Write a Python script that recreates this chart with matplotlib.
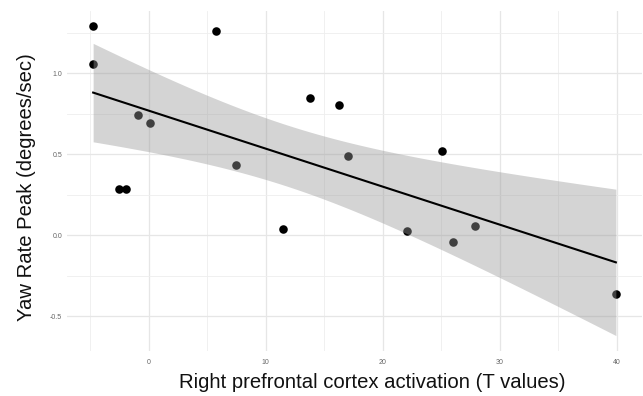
import numpy as np
import matplotlib
matplotlib.use("Agg")
import matplotlib.pyplot as plt
from matplotlib.ticker import MultipleLocator

plt.rcParams['font.family'] = ['Liberation Sans', 'DejaVu Sans']

# Right prefrontal cortex activation (T values) vs. yaw rate peak (deg/sec)
activation = [-4.74, -4.74, 5.77, 13.78, 16.28, 17.05, 25.08, -0.87, 0.10,
              7.50, -2.52, -1.95, 11.52, 22.04, 26.05, 27.90, 39.93]
yaw_peak = [1.288, 1.054, 1.261, 0.847, 0.803, 0.492, 0.521, 0.744, 0.691,
            0.435, 0.287, 0.287, 0.041, 0.027, -0.041, 0.055, -0.365]

x_ticks = [0, 10, 20, 30, 40]
y_ticks = [-0.5, 0.0, 0.5, 1.0]
x_label = "Right prefrontal cortex activation (T values)"
y_label = "Yaw Rate Peak (degrees/sec)"

x = np.asarray(activation)
y = np.asarray(yaw_peak)
n = len(x)

# Ordinary least squares fit with a 95% confidence band for the mean
slope, intercept = np.polyfit(x, y, 1)
resid = y - (intercept + slope * x)
s = np.sqrt(np.sum(resid ** 2) / (n - 2))
xg = np.linspace(x.min(), x.max(), 200)
yg = intercept + slope * xg
sxx = np.sum((x - x.mean()) ** 2)
se = s * np.sqrt(1.0 / n + (xg - x.mean()) ** 2 / sxx)
t_crit = 2.131  # t(0.975, df=15)
lo, hi = yg - t_crit * se, yg + t_crit * se

W, H = 643, 396
fig = plt.figure(figsize=(W / 100, H / 100), dpi=100)
ax = fig.add_axes([67 / W, 1 - 351 / H, (642 - 67) / W, (351 - 11) / H])

ax.scatter(x, y, s=38, color='black', zorder=3, linewidths=0)
ax.fill_between(xg, lo, hi, color='#999999', alpha=0.42, linewidth=0, zorder=4)
ax.plot(xg, yg, color='black', lw=1.5, zorder=5)

# ggplot-style 5% expansion of the data range
xmin, xmax = x.min(), x.max()
ymin, ymax = min(y.min(), lo.min()), max(y.max(), hi.max())
dx, dy = 0.05 * (xmax - xmin), 0.05 * (ymax - ymin)
ax.set_xlim(xmin - dx, xmax + dx)
ax.set_ylim(ymin - dy, ymax + dy)

ax.set_xticks(x_ticks)
ax.set_xticklabels([str(t) for t in x_ticks])
ax.set_yticks(y_ticks)
ax.set_yticklabels([f"{t:.1f}" for t in y_ticks])
ax.xaxis.set_minor_locator(MultipleLocator(5))
ax.yaxis.set_minor_locator(MultipleLocator(0.25))
ax.grid(which='major', color='#e6e6e6', lw=0.9)
ax.grid(which='minor', color='#eeeeee', lw=0.6)
ax.set_axisbelow(True)
ax.tick_params(which='both', length=0, labelsize=5, labelcolor='#666666')
ax.tick_params(axis='x', pad=6)
ax.tick_params(axis='y', pad=3.5)
for sp in ax.spines.values():
    sp.set_visible(False)

ax.set_xlabel(x_label, fontsize=14.6, color='#111111')
ax.set_ylabel(y_label, fontsize=14.6, color='#111111')
ax.xaxis.set_label_coords(372.5 / W, 1 - 373 / H, transform=fig.transFigure)
ax.yaxis.set_label_coords(36 / W, 1 - 187.5 / H, transform=fig.transFigure)

fig.savefig("out.png", dpi=100)
